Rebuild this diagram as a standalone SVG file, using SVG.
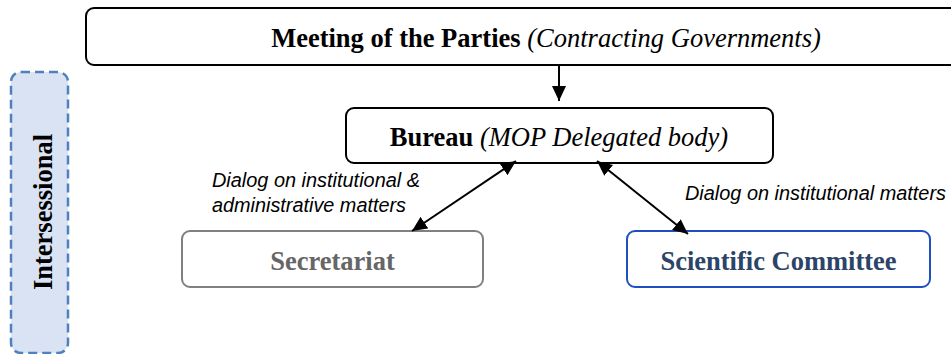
<svg xmlns="http://www.w3.org/2000/svg" width="951" height="354" viewBox="0 0 951 354">
  <style>
    .box { fill: #ffffff; stroke: #000000; stroke-width: 2; }
    .serif { font-family: "Liberation Serif", "Times New Roman", serif; font-size: 26.5px; }
    .b { font-weight: bold; }
    .i { font-style: italic; }
    .lbl { font-family: "Liberation Sans", Arial, sans-serif; font-size: 19.5px; font-style: italic; fill: #000000; }
    .conn { stroke: #000000; stroke-width: 2; fill: none; }
  </style>
  <defs>
    <marker id="ah" markerUnits="userSpaceOnUse" markerWidth="16" markerHeight="14" refX="15" refY="7" orient="auto-start-reverse" viewBox="0 0 16 14">
      <path d="M0,0 L15,7 L0,14 Z" fill="#000000"/>
    </marker>
  </defs>

  <rect width="951" height="354" fill="#ffffff"/>

  <g id="intersessional">
    <rect x="11" y="72" width="57" height="281" rx="10" fill="#dae3f3" stroke="#4f81bd" stroke-width="2.5" stroke-dasharray="9 5"/>
    <text class="serif b" transform="translate(52,212) rotate(-90)" text-anchor="middle" fill="#000000">Intersessional</text>
  </g>

  <g id="mop">
    <rect class="box" x="86" y="8" width="880" height="57" rx="8"/>
    <text class="serif" x="546" y="47" text-anchor="middle" fill="#000000"><tspan class="b">Meeting of the Parties</tspan> <tspan class="i">(Contracting Governments)</tspan></text>
  </g>

  <g id="bureau">
    <rect class="box" x="346" y="108" width="427" height="55" rx="8"/>
    <text class="serif" x="559" y="146" text-anchor="middle" fill="#000000"><tspan class="b">Bureau</tspan> <tspan class="i">(MOP Delegated body)</tspan></text>
  </g>

  <g id="secretariat">
    <rect x="182" y="231" width="301" height="56" rx="8" fill="#ffffff" stroke="#808080" stroke-width="2"/>
    <text class="serif b" x="332.5" y="270" text-anchor="middle" fill="#666666">Secretariat</text>
  </g>

  <g id="scientific">
    <rect x="627" y="231" width="303" height="56" rx="8" fill="#ffffff" stroke="#1f4fc0" stroke-width="2"/>
    <text class="serif b" x="778.5" y="270" text-anchor="middle" fill="#2b4468">Scientific Committee</text>
  </g>

  <g id="connectors">
    <line class="conn" x1="559" y1="65" x2="559" y2="101" marker-end="url(#ah)"/>
    <line class="conn" x1="412" y1="231" x2="516" y2="161" marker-start="url(#ah)" marker-end="url(#ah)"/>
    <line class="conn" x1="597" y1="161" x2="688" y2="234" marker-start="url(#ah)" marker-end="url(#ah)"/>
  </g>

  <g id="labels">
    <text class="lbl" x="212" y="187" textLength="208" lengthAdjust="spacingAndGlyphs">Dialog on institutional &amp;</text>
    <text class="lbl" x="212" y="212" textLength="194" lengthAdjust="spacingAndGlyphs">administrative matters</text>
    <text class="lbl" x="685" y="200" textLength="261" lengthAdjust="spacingAndGlyphs">Dialog on institutional matters</text>
  </g>
</svg>
